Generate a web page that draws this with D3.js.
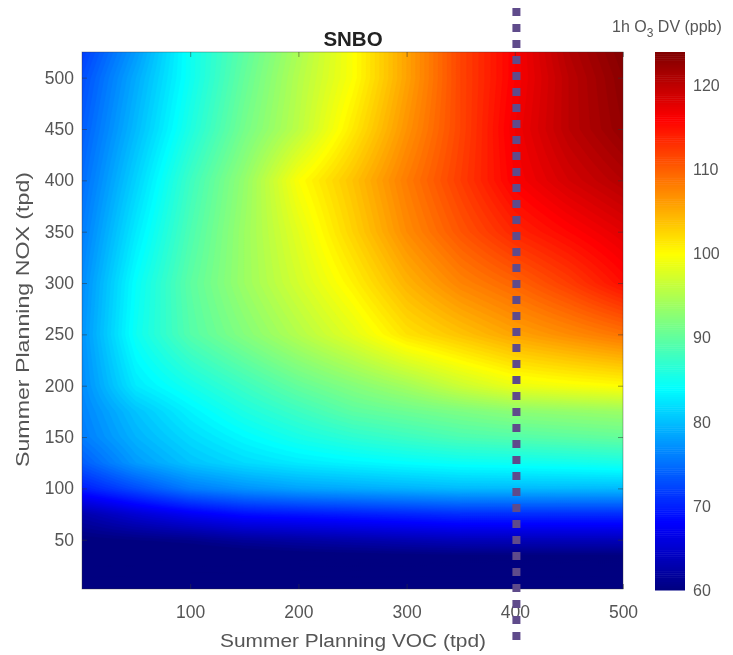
<!DOCTYPE html>
<html><head><meta charset="utf-8">
<script src="https://cdn.jsdelivr.net/npm/d3@7"></script>
<style>html,body{margin:0;padding:0;background:#fff}svg{display:block}text{font-family:"Liberation Sans",Arial,sans-serif;fill:#555}.soft{filter:blur(.45px)}</style>
</head><body><svg id="c" width="733" height="655"></svg>
<script>
const vocLevels = [0, 50, 100, 150, 200, 250, 300, 350, 400, 450, 500];
const noxLevels = [2, 25, 50, 75, 100, 125, 150, 175, 200, 250, 300, 350, 400, 450, 500, 525];
const nox2   = [56, 56, 56, 56, 56, 56, 56, 56, 56, 56, 56];
const nox25  = [57, 57, 57.5, 57.5, 58, 58, 58, 58, 58, 58, 58];
const nox50  = [60, 60.5, 61, 62, 62.5, 63, 63.5, 64, 64, 64, 64];
const nox75  = [63, 65.5, 67.5, 69, 69.5, 70, 70.5, 71, 71, 71, 71];
const nox100 = [70, 73, 76, 77.5, 78.5, 79, 79.5, 80, 80, 80, 80];
const nox125 = [74, 78, 80.5, 82, 83, 83.7, 84.3, 84.8, 85, 85.3, 85.7];
const nox150 = [76, 79.5, 82, 84, 85.7, 87, 88, 89, 89.5, 90, 90.5];
const nox175 = [76.5, 80.5, 83.5, 86, 88, 90, 91, 92, 93, 93.5, 94];
const nox200 = [77, 83, 85.5, 88, 90.5, 92.5, 94.5, 97, 99, 99.7, 100.3];
const nox250 = [77.5, 85, 89.5, 92.5, 95.5, 98.5, 102, 104, 106, 107.5, 109];
const nox300 = [77, 84.5, 90, 94, 97.5, 101, 105, 108, 110, 112.5, 115.5];
const nox350 = [76, 83, 89, 94, 98.5, 103, 107.5, 111, 114, 116, 118];
const nox400 = [75, 81.5, 88, 93.5, 100, 104, 108.5, 112.5, 116.5, 119, 121];
const nox450 = [74, 80, 86, 91.5, 96, 101.5, 107, 112, 117, 120.5, 123];
const nox500 = [73, 79, 85, 90.5, 95.5, 100, 106, 112, 116.5, 120.5, 123.5];
const nox525 = [72, 78, 85, 90, 95, 100, 106, 112, 116.5, 121, 124];
const valueRows = [nox2, nox25, nox50, nox75, nox100, nox125, nox150, nox175, nox200, nox250, nox300, nox350, nox400, nox450, nox500, nox525];
const xTicks = [100, 200, 300, 400, 500];
const yTicks = [50, 100, 150, 200, 250, 300, 350, 400, 450, 500];
const cbTicks = [60, 70, 80, 90, 100, 110, 120];
const markerVoc = 401.5;

const svg = d3.select("#c");
const x = d3.scaleLinear().domain([0, 500]).range([82, 623]);
const y = d3.scaleLinear().domain([2, 525]).range([589, 52]);
const cbY = d3.scaleLinear().domain([60, 124]).range([590, 52]);

// MATLAB jet over the colour axis
const jetStops = [[0,0,0,.5],[.125,0,0,1],[.375,0,1,1],[.625,1,1,0],[.875,1,0,0],[1,.5,0,0]];
const jet = d3.scaleLinear().domain(jetStops.map(s => 60 + 64 * s[0]))
  .range(jetStops.map(s => d3.rgb(s[1]*255, s[2]*255, s[3]*255))).clamp(true);

const idxX = d3.scaleLinear().domain(vocLevels).range(vocLevels.map((_, i) => i));
const idxY = d3.scaleLinear().domain(noxLevels).range(noxLevels.map((_, i) => i));
function field(v, n) {
  const fx = Math.min(idxX(v), vocLevels.length - 1.0001), fy = Math.min(idxY(n), noxLevels.length - 1.0001);
  const i = Math.floor(fx), j = Math.floor(fy), a = fx - i, b = fy - j;
  return d3.interpolateNumber(
    d3.interpolateNumber(valueRows[j][i], valueRows[j][i + 1])(a),
    d3.interpolateNumber(valueRows[j + 1][i], valueRows[j + 1][i + 1])(a))(b);
}
const W = 271, H = 269;
const gv = d3.scaleLinear().domain([0, W - 1]).range(x.domain());
const gn = d3.scaleLinear().domain([0, H - 1]).range(y.domain());
const grid = new Float64Array(W * H);
for (let j = 0; j < H; j++) for (let i = 0; i < W; i++) grid[j * W + i] = field(gv(i), gn(j));

const levels = d3.range(50, 124.5, 0.5);
const contours = d3.contours().size([W, H]).smooth(true).thresholds(levels)(grid);
const path = d3.geoPath(d3.geoTransform({
  point(px, py) { this.stream.point(x(gv(px - 0.5)), y(gn(py - 0.5))); }
}));
const defs = svg.append("defs");
defs.append("clipPath").attr("id", "pc").append("rect")
  .attr("x", x(0)).attr("y", y(525)).attr("width", x(500) - x(0)).attr("height", y(2) - y(525));
const root = svg.append("g").attr("class", "soft");
const plot = root.append("g").attr("clip-path", "url(#pc)");
plot.append("rect").attr("x", x(0)).attr("y", y(525)).attr("width", x(500) - x(0)).attr("height", y(2) - y(525)).attr("fill", jet(50));
plot.selectAll("path").data(contours).join("path").attr("d", path)
  .attr("fill", d => jet(d.value)).attr("stroke", d => jet(d.value)).attr("stroke-width", 0.4);

// frame and ticks
root.append("rect").attr("x", x(0)).attr("y", y(525)).attr("width", x(500) - x(0)).attr("height", y(2) - y(525))
  .attr("fill", "none").attr("stroke", "#333").attr("stroke-opacity", .45).attr("stroke-width", .8);
function style(g, fs) {
  g.select(".domain").remove();
  g.selectAll("line").attr("stroke", "#333").attr("stroke-opacity", .5);
  g.selectAll("text").style("font-size", fs + "px").style("fill", "#555");
}
const ax = root.append("g").attr("transform", `translate(0,${y(2)})`)
  .call(d3.axisBottom(x).tickValues(xTicks).tickSize(-5).tickPadding(17));
style(ax, 17.5);
const ay = root.append("g").attr("transform", `translate(${x(0)},0)`)
  .call(d3.axisLeft(y).tickValues(yTicks).tickSize(-5).tickPadding(8));
style(ay, 17.5);
root.append("g").attr("transform", `translate(0,${y(525)})`)
  .call(d3.axisTop(x).tickValues(xTicks).tickSize(-5).tickFormat("")).call(g => style(g, 16));
root.append("g").attr("transform", `translate(${x(500)},0)`)
  .call(d3.axisRight(y).tickValues(yTicks).tickSize(-5).tickFormat("")).call(g => style(g, 16));

// colour bar
const cbSteps = d3.range(60, 124, 0.25);
root.append("g").selectAll("rect").data(cbSteps).join("rect")
  .attr("x", 655).attr("width", 30).attr("y", d => cbY(d + .25)).attr("height", d => cbY(d) - cbY(d + .25) + .5)
  .attr("fill", d => jet(d + .125));
const ac = root.append("g").attr("transform", "translate(685,0)")
  .call(d3.axisRight(cbY).tickValues(cbTicks).tickSize(0).tickPadding(8));
style(ac, 16);

// titles
root.append("text").attr("x", 353).attr("y", 46).attr("text-anchor", "middle")
  .style("font-size", "20.5px").style("font-weight", "bold").style("fill", "#222").text("SNBO");
root.append("text").attr("x", 353).attr("y", 647).attr("text-anchor", "middle")
  .attr("textLength", 266).attr("lengthAdjust", "spacingAndGlyphs")
  .style("font-size", "18px").text("Summer Planning VOC (tpd)");
root.append("text").attr("transform", "translate(29,319.5) rotate(-90)").attr("text-anchor", "middle")
  .attr("textLength", 295).attr("lengthAdjust", "spacingAndGlyphs")
  .style("font-size", "17.5px").text("Summer Planning NOX (tpd)");
const ct = root.append("text").attr("x", 612).attr("y", 32).style("font-size", "16px");
ct.append("tspan").text("1h O");
ct.append("tspan").attr("dy", 5).style("font-size", "12px").text("3");
ct.append("tspan").attr("dy", -5).text(" DV (ppb)");

// dotted marker line
svg.append("line").datum(markerVoc).attr("x1", x).attr("x2", x).attr("y1", 8).attr("y2", 640)
  .attr("stroke", "#5f4b8b").attr("stroke-width", 8).attr("stroke-dasharray", "8 8");
</script></body></html>
